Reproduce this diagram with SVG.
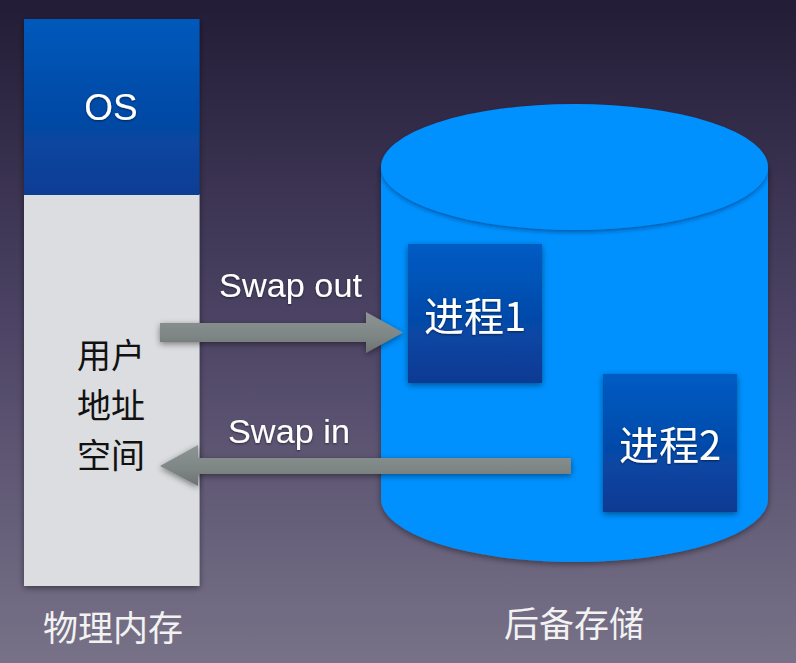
<svg xmlns="http://www.w3.org/2000/svg" width="796" height="663" viewBox="0 0 796 663">
<defs>
<linearGradient id="bg" x1="0" y1="0" x2="0" y2="1">
<stop offset="0" stop-color="#221c36"/>
<stop offset="0.5" stop-color="#4e4566"/>
<stop offset="1" stop-color="#787288"/>
</linearGradient>
<linearGradient id="osg" x1="0" y1="0" x2="0" y2="1">
<stop offset="0" stop-color="#0059bb"/>
<stop offset="1" stop-color="#0a3d94"/>
</linearGradient>
<linearGradient id="pg" x1="0" y1="0" x2="0" y2="1">
<stop offset="0" stop-color="#005cc4"/>
<stop offset="1" stop-color="#0b3a92"/>
</linearGradient>
<linearGradient id="ag" x1="0" y1="0" x2="0" y2="1">
<stop offset="0" stop-color="#8d9494"/>
<stop offset="0.6" stop-color="#7e8585"/>
<stop offset="1" stop-color="#6c7272"/>
</linearGradient>
<filter id="sh" x="-20%" y="-20%" width="140%" height="140%">
<feDropShadow dx="0" dy="2" stdDeviation="3" flood-color="#000" flood-opacity="0.45"/>
</filter>
<filter id="esh" x="-10%" y="-20%" width="120%" height="150%">
<feDropShadow dx="0" dy="2" stdDeviation="2" flood-color="#00204a" flood-opacity="0.5"/>
</filter>
<filter id="tsh" x="-10%" y="-10%" width="120%" height="130%">
<feDropShadow dx="0" dy="1" stdDeviation="1" flood-color="#000" flood-opacity="0.5"/>
</filter>
</defs>
<style>
.w{fill:#ffffff;font-family:"Liberation Sans","Noto Sans CJK SC",sans-serif;}
.cj{font-family:"Noto Sans CJK SC","Liberation Sans",sans-serif;}
.k{fill:#111111;font-family:"Noto Sans CJK SC",sans-serif;font-size:34px;}
.lab{fill:#f2f2f2;font-family:"Noto Sans CJK SC",sans-serif;font-size:35px;}
</style>
<rect x="0" y="0" width="796" height="663" fill="url(#bg)"/>

<g id="memory" filter="url(#sh)">
<rect x="24" y="194" width="175.5" height="392" fill="#dcdde0"/>
<rect x="24" y="19" width="175.5" height="176" fill="url(#osg)"/>
</g>
<g id="os-label">
<text class="w" x="111" y="120" font-size="37" text-anchor="middle" filter="url(#tsh)">OS</text>
</g>
<g id="user-space">
<text class="k" x="77" y="368">用户</text>
<text class="k" x="77" y="418">地址</text>
<text class="k" x="77" y="468">空间</text>
</g>

<g id="storage">
<path d="M381 167 L381 499 A193.5 63 0 0 0 768 499 L768 167 Z" fill="#0091ff" filter="url(#sh)"/>
<ellipse cx="574.5" cy="167" rx="193.5" ry="63" fill="#0091ff" filter="url(#esh)"/>
</g>

<g id="proc1">
<rect x="408" y="244" width="134" height="139" fill="url(#pg)" filter="url(#sh)"/>
<text class="w cj" x="475" y="331" font-size="40" text-anchor="middle" filter="url(#tsh)">进程1</text>
</g>
<g id="proc2">
<rect x="603" y="374" width="134" height="138" fill="url(#pg)" filter="url(#sh)"/>
<text class="w cj" x="670" y="460" font-size="40" text-anchor="middle" filter="url(#tsh)">进程2</text>
</g>

<g id="connectors" filter="url(#sh)">
<path d="M160 323 L366 323 L366 312 L403 332.5 L366 353 L366 342 L160 342 Z" fill="url(#ag)"/>
<path d="M571 458 L198 458 L198 445 L160 466 L198 486 L198 474 L571 474 Z" fill="url(#ag)"/>
</g>
<g id="connector-labels">
<text class="w" x="219" y="297" font-size="33" textLength="143" lengthAdjust="spacingAndGlyphs" filter="url(#tsh)">Swap out</text>
<text class="w" x="228" y="443" font-size="33" textLength="122" lengthAdjust="spacingAndGlyphs" filter="url(#tsh)">Swap in</text>
</g>

<g id="captions">
<text class="lab" x="113" y="641" text-anchor="middle">物理内存</text>
<text class="lab" x="574" y="637" text-anchor="middle">后备存储</text>
</g>
</svg>
